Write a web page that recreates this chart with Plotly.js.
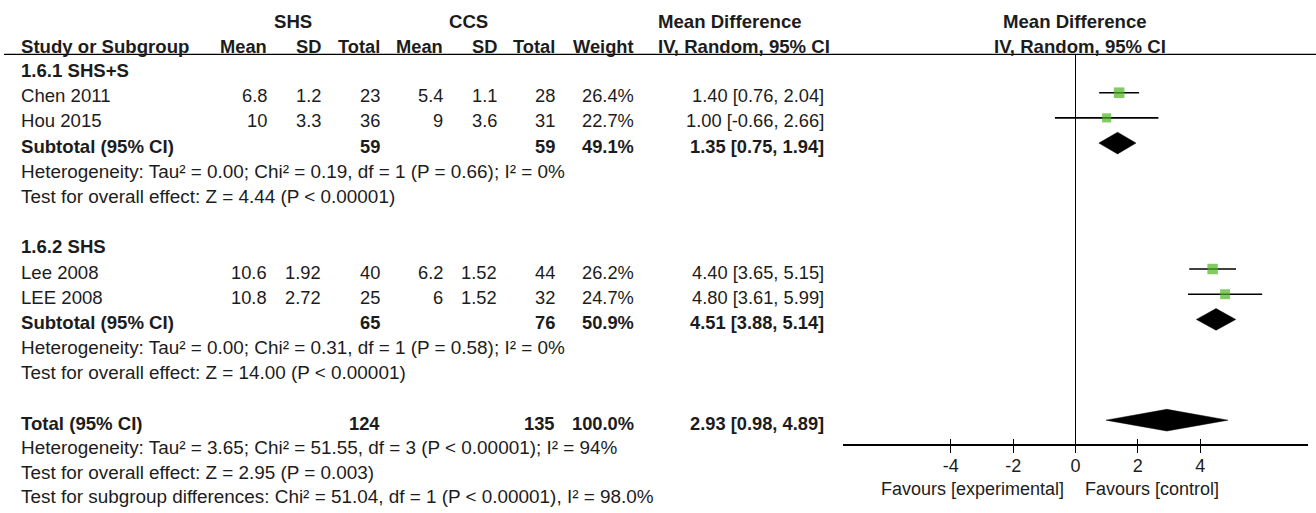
<!DOCTYPE html>
<html>
<head>
<meta charset="utf-8">
<script src="https://cdn.plot.ly/plotly-3.0.1.min.js"></script>
<style>html,body{margin:0;padding:0;background:#fff;}#chart{width:1316px;height:513px;}</style>
</head>
<body>
<div id="chart"></div>
<script>
// ---------- data ----------
const studies   = ['Chen 2011', 'Hou 2015', 'Lee 2008', 'LEE 2008'];
const expMean   = [6.8, 10, 10.6, 10.8];
const expSD     = [1.2, 3.3, 1.92, 2.72];
const expN      = [23, 36, 40, 25];
const ctlMean   = [5.4, 9, 6.2, 6];
const ctlSD     = [1.1, 3.6, 1.52, 1.52];
const ctlN      = [28, 31, 44, 32];
const weight    = [26.4, 22.7, 26.2, 24.7];
const md        = [1.40, 1.00, 4.40, 4.80];
const ciLow     = [0.76, -0.66, 3.65, 3.61];
const ciHigh    = [2.04, 2.66, 5.15, 5.99];
const studyRow  = [1, 2, 8, 9];

const groupLabels = ['1.6.1 SHS+S', '1.6.2 SHS'];
const groupRow    = [0, 7];

const pooledLabels = ['Subtotal (95% CI)', 'Subtotal (95% CI)', 'Total (95% CI)'];
const pooledExpN   = [59, 65, 124];
const pooledCtlN   = [59, 76, 135];
const pooledWeight = [49.1, 50.9, 100.0];
const pooledMd     = [1.35, 4.51, 2.93];
const pooledLow    = [0.75, 3.88, 0.98];
const pooledHigh   = [1.94, 5.14, 4.89];
const pooledRow    = [3, 10, 14];

const notes = [
  'Heterogeneity: Tau² = 0.00; Chi² = 0.19, df = 1 (P = 0.66); I² = 0%',
  'Test for overall effect: Z = 4.44 (P < 0.00001)',
  'Heterogeneity: Tau² = 0.00; Chi² = 0.31, df = 1 (P = 0.58); I² = 0%',
  'Test for overall effect: Z = 14.00 (P < 0.00001)',
  'Heterogeneity: Tau² = 3.65; Chi² = 51.55, df = 3 (P < 0.00001); I² = 94%',
  'Test for overall effect: Z = 2.95 (P = 0.003)',
  'Test for subgroup differences: Chi² = 51.04, df = 1 (P < 0.00001), I² = 98.0%'
];
const noteRow = [4, 5, 11, 12, 14.98, 15.95, 16.92];

const tickVals  = [-4, -2, 0, 2, 4];
const tickText  = ['-4', '-2', '0', '2', '4'];
const favourLeft  = 'Favours [experimental]';
const favourRight = 'Favours [control]';

// ---------- style / layout ----------
const W = 1316, H = 513;
const FONT = '"Liberation Sans", Arial, sans-serif';
const FS = 18.3;      // numbers
const FS_LAB = 18.6;  // labels
const FS_NOTE = 18.9; // notes
const FS_AX = 18;     // axis texts
const TC = '#1c1c1c';
const GREEN = '#4db51f';
const col = {study: 20.7, eMean: 266.7, eSD: 320.7, eN: 380, cMean: 443.3, cSD: 497, cN: 555, wt: 634, mdL: 658, mdR: 824};

const ann = [];
function t(text, xpx, row, anchor, bold, size, shift) {
  ann.push({
    text: text, x: xpx / W, xref: 'paper', y: row, yref: 'y2',
    xanchor: anchor, yanchor: 'middle', yshift: shift === undefined ? -3 : shift, showarrow: false,
    borderpad: 0, borderwidth: 0,
    font: {family: FONT, size: size || FS, color: TC, weight: bold ? 'bold' : 'normal'}
  });
}
// header rows
t('SHS', 293, -2.06, 'center', true, FS_LAB, -6);
t('CCS', 468, -2.06, 'center', true, FS_LAB, -6);
t('Mean Difference', col.mdL, -2.06, 'left', true, FS_LAB, -6);
t('Mean Difference', 1075.3, -2.06, 'center', true, FS_LAB, -6);
t('Study or Subgroup', col.study, -1.06, 'left', true, FS_LAB, -6);
t('Mean', col.eMean, -1.06, 'right', true, FS, -6);
t('SD', col.eSD, -1.06, 'right', true, FS, -6);
t('Total', col.eN, -1.06, 'right', true, FS, -6);
t('Mean', col.cMean, -1.06, 'right', true, FS, -6);
t('SD', col.cSD, -1.06, 'right', true, FS, -6);
t('Total', col.cN, -1.06, 'right', true, FS, -6);
t('Weight', col.wt, -1.06, 'right', true, FS, -6);
t('IV, Random, 95% CI', col.mdL, -1.06, 'left', true, FS_LAB, -6);
t('IV, Random, 95% CI', 1079.5, -1.06, 'center', true, FS_LAB, -6);

groupLabels.forEach((g, i) => t(g, col.study, groupRow[i], 'left', true, FS_LAB));

studies.forEach((s, i) => {
  const r = studyRow[i];
  t(s, col.study, r, 'left', false, FS_LAB);
  t(String(expMean[i]), col.eMean, r, 'right', false);
  t(String(expSD[i]), col.eSD, r, 'right', false);
  t(String(expN[i]), col.eN, r, 'right', false);
  t(String(ctlMean[i]), col.cMean, r, 'right', false);
  t(String(ctlSD[i]), col.cSD, r, 'right', false);
  t(String(ctlN[i]), col.cN, r, 'right', false);
  t(weight[i].toFixed(1) + '%', col.wt, r, 'right', false);
  t(md[i].toFixed(2) + ' [' + ciLow[i].toFixed(2) + ', ' + ciHigh[i].toFixed(2) + ']', col.mdR, r, 'right', false);
});

pooledLabels.forEach((p, i) => {
  const r = pooledRow[i];
  t(p, col.study, r, 'left', true, FS_LAB);
  t(String(pooledExpN[i]), col.eN, r, 'right', true);
  t(String(pooledCtlN[i]), col.cN, r, 'right', true);
  t(pooledWeight[i].toFixed(1) + '%', col.wt, r, 'right', true);
  t(pooledMd[i].toFixed(2) + ' [' + pooledLow[i].toFixed(2) + ', ' + pooledHigh[i].toFixed(2) + ']', col.mdR, r, 'right', true);
});

notes.forEach((n, i) => t(n, col.study, noteRow[i], 'left', false, FS_NOTE));

t(favourLeft, 1064, 16.5, 'right', false, FS_AX, -6);
t(favourRight, 1085, 16.5, 'left', false, FS_AX, -6);

// ---------- traces ----------
const traces = [];
traces.push({
  type: 'scatter', mode: 'markers', x: md, y: studyRow, xaxis: 'x', yaxis: 'y',
  marker: {symbol: 'square', size: weight.map(w => w * 0.4), color: GREEN, line: {width: 0}},
  error_x: {type: 'data', symmetric: false,
    array: ciHigh.map((h, i) => h - md[i]), arrayminus: ciLow.map((l, i) => md[i] - l),
    color: '#000', thickness: 1.6, width: 0},
  hoverinfo: 'skip', cliponaxis: false
});
const dh = 0.43; // diamond half-height in rows
pooledMd.forEach((m, i) => {
  const r = pooledRow[i];
  traces.push({
    type: 'scatter', mode: 'lines', xaxis: 'x', yaxis: 'y',
    x: [pooledLow[i], m, pooledHigh[i], m, pooledLow[i]],
    y: [r, r - dh, r, r + dh, r],
    fill: 'toself', fillcolor: '#000', line: {color: '#000', width: 0.5},
    hoverinfo: 'skip'
  });
});

const yTop = 54.3, yAx = 444.3;
const layout = {
  width: W, height: H,
  margin: {l: 0, r: 0, t: 0, b: 0},
  paper_bgcolor: '#fff', plot_bgcolor: 'rgba(0,0,0,0)',
  showlegend: false,
  font: {family: FONT, size: FS, color: TC},
  xaxis: {
    domain: [842.7 / W, 1308.3 / W], range: [-7.47, 7.47], anchor: 'y',
    showline: true, linecolor: '#000', linewidth: 1.3,
    zeroline: true, zerolinecolor: '#000', zerolinewidth: 1.3,
    showgrid: false, tickmode: 'array', tickvals: tickVals, ticktext: tickText,
    ticks: 'outside', ticklen: 7, tickwidth: 1.3, tickcolor: '#000', ticklabelstandoff: -2,
    tickfont: {family: FONT, size: FS_AX, color: TC}, fixedrange: true
  },
  xaxis2: {
    overlaying: 'x', anchor: 'y', range: [-7.47, 7.47],
    showline: false, zeroline: false, showgrid: false,
    tickmode: 'array', tickvals: tickVals, ticks: 'inside', ticklen: 5, tickwidth: 1.3,
    tickcolor: '#000', showticklabels: false, fixedrange: true
  },
  yaxis: {
    domain: [(H - yAx) / H, (H - yTop) / H], range: [14.958, -0.5244], anchor: 'x',
    visible: false, fixedrange: true
  },
  xaxis3: {domain: [0, 1], range: [0, 1], anchor: 'y2', visible: false, fixedrange: true},
  yaxis2: {domain: [0, 1], range: [17.685, -2.680], anchor: 'x3', visible: false, fixedrange: true},
  shapes: [{
    type: 'line', xref: 'paper', yref: 'paper', x0: 4 / W, x1: 1, y0: (H - yTop) / H, y1: (H - yTop) / H,
    line: {color: '#000', width: 1.3}
  }],
  annotations: ann
};
traces.push({type: 'scatter', x: [], y: [], xaxis: 'x2', yaxis: 'y', hoverinfo: 'skip'});
Plotly.newPlot('chart', traces, layout, {staticPlot: true, displayModeBar: false});
</script>
</body>
</html>
